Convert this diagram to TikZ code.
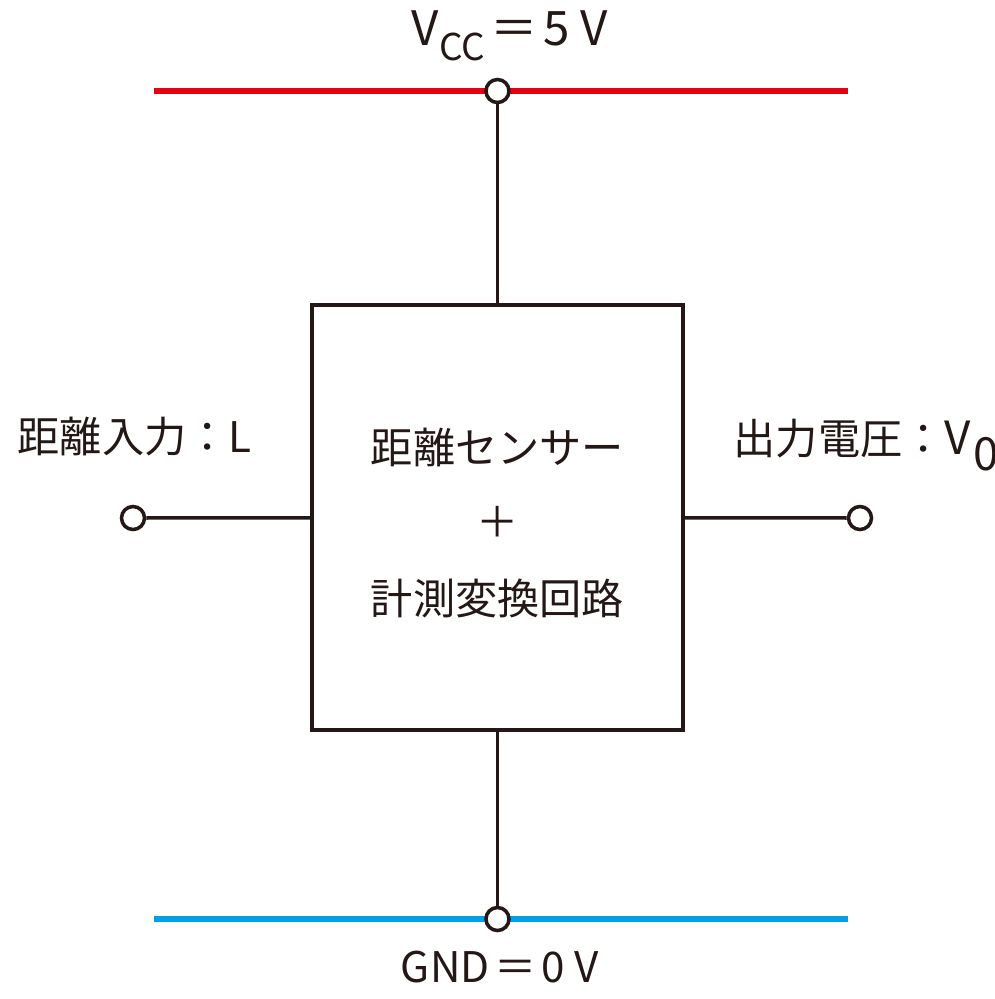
\documentclass[tikz,border=0pt]{standalone}
\usepackage{fontspec}
\setmainfont{Noto Sans CJK JP}
\usepackage{tikz}
\definecolor{ink}{HTML}{231815}
\definecolor{railred}{HTML}{E60012}
\definecolor{railblue}{HTML}{00A0E9}

\begin{document}
\begin{tikzpicture}[
        x=0.01cm, y=-0.01cm,
        every node/.append style={font=\fontsize{12}{14}\selectfont, text=ink}
    ]
    \tikzstyle{term}=[draw=ink,shape=circle,line width=1pt,fill=white,inner sep=0pt,minimum size=0.23cm];
    \tikzstyle{wire}=[draw=ink,line width=1pt];
    \tikzstyle{rail}=[line width=1.7pt];
    \useasboundingbox (0,0) rectangle (995,999);
    % rails
    \coordinate (vccL) at (154,91);
    \coordinate (vccR) at (848,91);
    \coordinate (gndL) at (154,919);
    \coordinate (gndR) at (848,919);
    \draw[rail,railred] (vccL) -- (vccR);
    \draw[rail,railblue] (gndL) -- (gndR);
    % block
    \node[draw=ink,line width=1pt,minimum width=3.71cm,minimum height=4.25cm,inner sep=0pt] (blk) at (497.5,517.5) {};
    \node (sensor) at (497.5,447) {距離センサー};
    \node (plus) at (497.5,522) {＋};
    \node (conv) at (497.5,598) {計測変換回路};
    % terminals
    \node[term] (vcc) at (497.5,91) {};
    \node[term] (gnd) at (497.5,919) {};
    \node[term] (inL) at (133,518) {};
    \node[term] (outV) at (860,518) {};
    \draw[wire] (vcc) -- (blk) (blk) -- (gnd);
    \draw[wire] (inL) -- (blk) (blk) -- (outV);
    % labels
    \node[anchor=base,font=\fontsize{13.5}{16}\selectfont] (vcclbl) at (510,45)
        {V\raisebox{-0.32em}{\fontsize{10.5}{12}\selectfont CC}\kern0.12em＝\kern0.12em5 V};
    \node[anchor=base] (gndlbl) at (500,982) {GND\kern0.12em＝\kern0.12em0 V};
    \node[anchor=base west,inner sep=0pt] (inlbl) at (17,452) {距離入力：L};
    \node[anchor=base west,inner sep=0pt] (outlbl) at (733,454)
        {出力電圧：{\fontsize{13}{15}\selectfont V\kern0.05em\raisebox{-0.35em}{0}}};
\end{tikzpicture}
\end{document}
